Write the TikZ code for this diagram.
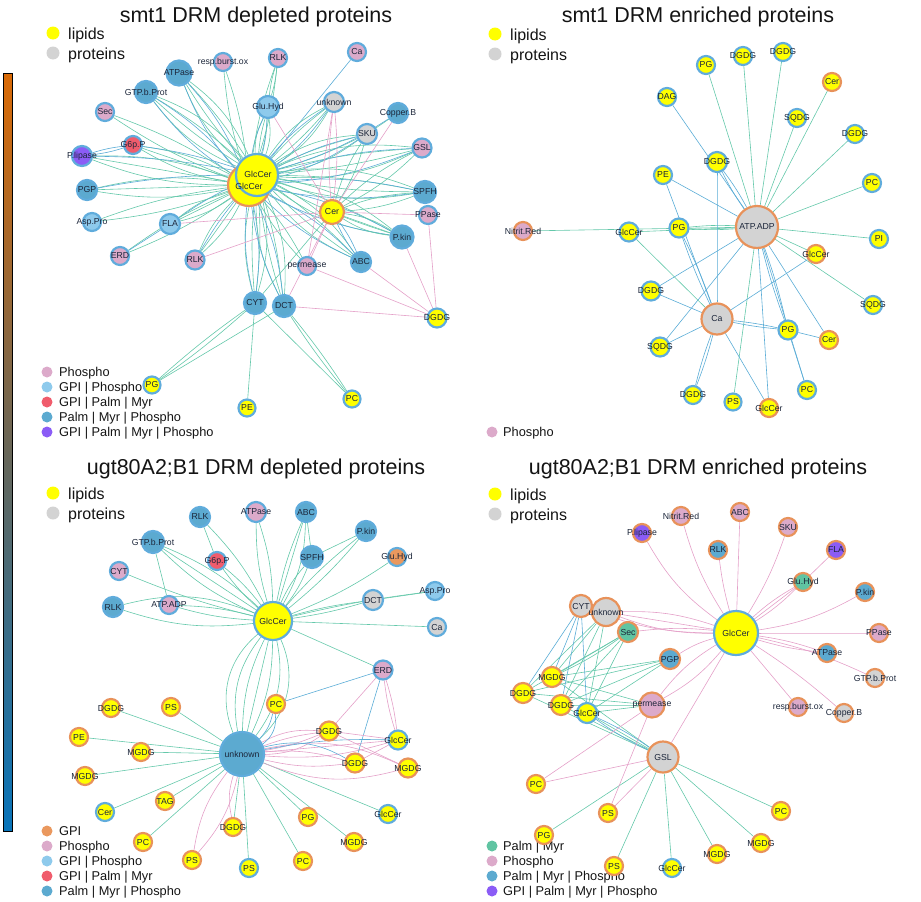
\documentclass[tikz,border=0pt]{standalone}
\usepackage{fontspec}
\setmainfont{Liberation Sans}
\usetikzlibrary{backgrounds}
\definecolor{cY}{RGB}{255,255,0}
\definecolor{cGr}{RGB}{211,211,211}
\definecolor{cPh}{RGB}{220,170,202}
\definecolor{cGP}{RGB}{142,202,236}
\definecolor{cGPM}{RGB}{240,92,108}
\definecolor{cPMP}{RGB}{92,170,208}
\definecolor{cAll}{RGB}{139,92,246}
\definecolor{cGPI}{RGB}{234,152,94}
\definecolor{cPM}{RGB}{96,196,162}
\definecolor{bB}{RGB}{96,172,220}
\definecolor{bO}{RGB}{232,146,90}
\definecolor{eG}{RGB}{100,200,170}
\definecolor{eB}{RGB}{90,172,214}
\definecolor{eP}{RGB}{228,160,200}
\definecolor{labc}{RGB}{28,38,58}
\definecolor{txt}{RGB}{20,20,20}
\definecolor{cbTop}{RGB}{218,106,6}
\definecolor{cbMid}{RGB}{104,102,88}
\definecolor{cbBot}{RGB}{8,116,186}
\newcommand\myfs[1]{\fontsize{#1}{#1}\selectfont}
\newcommand\mynd[6]{\node[nd,fill=#1,draw=#2,minimum size=#3pt,label={[lab]center:#6}] (#4) at (#5) {};}
\newcommand\fan[4]{\foreach \bb in {#4}{\draw[#1] (#2) to[bend left=\bb] (#3);}}
\newcommand\legA[4]{\node[circle,fill=#1,inner sep=0pt,minimum size=11pt] (#2) at (#3) {};}
\begin{document}
\begin{tikzpicture}[x=1pt,y=-1pt,
  nd/.style={circle,inner sep=0pt,line width=2.2pt},
  lab/.style={font=\myfs{8.7},text=labc,inner sep=0pt},
  eg/.style={draw=eG,line width=0.6pt},
  eb/.style={draw=eB,line width=0.6pt},
  ep/.style={draw=eP,line width=0.6pt},
  ttl/.style={font=\myfs{21.5},text=txt,anchor=base},
  lg/.style={font=\myfs{16},text=txt,anchor=base west,inner sep=0pt},
  lgs/.style={font=\myfs{12.8},text=txt,anchor=base west,inner sep=0pt},
  dot/.style={circle,inner sep=0pt}]
\useasboundingbox (0,0) rectangle (921,902);
% colour bar
\shade[top color=cbTop,bottom color=cbBot,middle color=cbMid] (3,73) rectangle (12,831);
\draw[black,line width=0.8pt] (3,73) rectangle (12,831);

% titles and legends
\node[ttl] (t1) at (256,22) {smt1 DRM depleted proteins};
\node[ttl] (t2) at (698,22) {smt1 DRM enriched proteins};
\node[ttl] (t3) at (256,474) {ugt80A2;B1 DRM depleted proteins};
\node[ttl] (t4) at (698,474) {ugt80A2;B1 DRM enriched proteins};
\foreach \px/\py/\nm in {53/33/p1,495/34/p2,53/493/p3,495/494/p4}{
  \node[dot,fill=cY,minimum size=13pt] (ly\nm) at (\px,\py) {};
  \node[dot,fill=cGr,minimum size=13pt] (lp\nm) at (\px,\py+20) {};
  \node[lg] (lyt\nm) at (\px+15,\py+6) {lipids};
  \node[lg] (lpt\nm) at (\px+15,\py+26) {proteins};
}
% bottom legends
\legA{cPh}{l1a}{47,372}{}\node[lgs] (l1at) at (59,376.5) {Phospho};
\legA{cGP}{l1b}{47,387}{}\node[lgs] (l1bt) at (59,391.5) {GPI | Phospho};
\legA{cGPM}{l1c}{47,402}{}\node[lgs] (l1ct) at (59,406.5) {GPI | Palm | Myr};
\legA{cPMP}{l1d}{47,417}{}\node[lgs] (l1dt) at (59,421.5) {Palm | Myr | Phospho};
\legA{cAll}{l1e}{47,432}{}\node[lgs] (l1et) at (59,436.5) {GPI | Palm | Myr | Phospho};
\legA{cPh}{l2a}{492,432}{}\node[lgs] (l2at) at (503,436.5) {Phospho};
\legA{cGPI}{l3a}{47,831}{}\node[lgs] (l3at) at (59,835.5) {GPI};
\legA{cPh}{l3b}{47,846}{}\node[lgs] (l3bt) at (59,850.5) {Phospho};
\legA{cGP}{l3c}{47,861}{}\node[lgs] (l3ct) at (59,865.5) {GPI | Phospho};
\legA{cGPM}{l3d}{47,876}{}\node[lgs] (l3dt) at (59,880.5) {GPI | Palm | Myr};
\legA{cPMP}{l3e}{47,891}{}\node[lgs] (l3et) at (59,895.5) {Palm | Myr | Phospho};
\legA{cPM}{l4a}{492,846}{}\node[lgs] (l4at) at (503,850.5) {Palm | Myr};
\legA{cPh}{l4b}{492,861}{}\node[lgs] (l4bt) at (503,865.5) {Phospho};
\legA{cPMP}{l4c}{492,876}{}\node[lgs] (l4ct) at (503,880.5) {Palm | Myr | Phospho};
\legA{cAll}{l4d}{492,891}{}\node[lgs] (l4dt) at (503,895.5) {GPI | Palm | Myr | Phospho};

% ===== panel 1 nodes =====
\node[nd,fill=cY,draw=bO,minimum size=42pt] (aglcO) at (249,185) {};
\node[nd,fill=cY,draw=bB,minimum size=42pt] (aglcB) at (257,175) {};
\node[lab] (aglcOl) at (249,186) {GlcCer};
\node[lab] (aglcBl) at (258,174) {GlcCer};
\mynd{cPMP}{bB}{25}{aATP}{179,73}{ATPase}
\mynd{cPh}{bB}{18}{aRBO}{223,62}{resp.burst.ox}
\mynd{cPMP}{bB}{22}{aGTP}{146,92}{GTP.b.Prot}
\mynd{cPh}{bB}{18}{aSec}{105,112}{Sec}
\mynd{cGPM}{bB}{18}{aG6P}{133,145}{G6p.P}
\mynd{cAll}{bB}{20}{aPL}{82,156}{P.lipase}
\mynd{cPMP}{bB}{20}{aPGP}{87,190}{PGP}
\mynd{cGP}{bB}{18}{aAsp}{92,222}{Asp.Pro}
\mynd{cGP}{bB}{20}{aFLA}{170,224}{FLA}
\mynd{cPh}{bB}{18}{aERD}{120,256}{ERD}
\mynd{cPh}{bB}{19}{aRLKb}{195,260}{RLK}
\mynd{cPMP}{bB}{22}{aCYT}{255,303}{CYT}
\mynd{cPMP}{bB}{22}{aDCT}{284,306}{DCT}
\mynd{cPh}{bB}{18}{aPerm}{307,266}{permease}
\mynd{cPMP}{bB}{20}{aABC}{361,262}{ABC}
\mynd{cPMP}{bB}{23}{aPkin}{402,237}{P.kin}
\mynd{cPh}{bB}{18}{aPPase}{428,215}{PPase}
\mynd{cPMP}{bB}{22}{aSPFH}{425,192}{SPFH}
\mynd{cPh}{bB}{19}{aGSL}{422,148}{GSL}
\mynd{cGr}{bB}{20}{aSKU}{367,134}{SKU}
\mynd{cPMP}{bB}{20}{aCop}{398,113}{Copper.B}
\mynd{cGr}{bB}{20}{aUnk}{334,102}{unknown}
\mynd{cGP}{bB}{22}{aGlu}{268,107}{Glu.Hyd}
\mynd{cPh}{bB}{18}{aRLKt}{278,58}{RLK}
\mynd{cPh}{bB}{18}{aCa}{357,52}{Ca}
\mynd{cY}{bO}{24}{aCer}{332,212}{Cer}
\mynd{cY}{bB}{19}{aDGDG}{437,318}{DGDG}
\mynd{cY}{bB}{17}{aPG}{152,385}{PG}
\mynd{cY}{bB}{17}{aPE}{247,408}{PE}
\mynd{cY}{bB}{17}{aPC}{352,399}{PC}

% ===== panel 2 nodes =====
\mynd{cGr}{bO}{42}{bATP}{757,227}{ATP.ADP}
\mynd{cGr}{bO}{31}{bCa}{717,319}{Ca}
\mynd{cY}{bB}{18}{bPG1}{706,65}{PG}
\mynd{cY}{bB}{18}{bDG1}{743,56}{DGDG}
\mynd{cY}{bB}{18}{bDG2}{783,52}{DGDG}
\mynd{cY}{bO}{18}{bCer1}{832,82}{Cer}
\mynd{cY}{bB}{18}{bDAG}{667,97}{DAG}
\mynd{cY}{bB}{18}{bSQ1}{797,118}{SQDG}
\mynd{cY}{bB}{18}{bDG3}{855,134}{DGDG}
\mynd{cY}{bB}{20}{bDG4}{717,162}{DGDG}
\mynd{cY}{bB}{18}{bPE}{663,175}{PE}
\mynd{cY}{bB}{18}{bPC1}{872,183}{PC}
\mynd{cPh}{bO}{18}{bNit}{523,231}{Nitrit.Red}
\mynd{cY}{bB}{19}{bGlc1}{629,232}{GlcCer}
\mynd{cY}{bB}{19}{bPG2}{679,228}{PG}
\mynd{cY}{bB}{18}{bPI}{879,239}{PI}
\mynd{cY}{bO}{18}{bGlc2}{816,254}{GlcCer}
\mynd{cY}{bB}{19}{bDG5}{651,291}{DGDG}
\mynd{cY}{bB}{18}{bSQ2}{873,305}{SQDG}
\mynd{cY}{bB}{19}{bPG3}{788,330}{PG}
\mynd{cY}{bO}{18}{bCer2}{829,340}{Cer}
\mynd{cY}{bB}{19}{bSQ3}{660,347}{SQDG}
\mynd{cY}{bB}{18}{bPC2}{807,390}{PC}
\mynd{cY}{bB}{18}{bDG6}{693,395}{DGDG}
\mynd{cY}{bB}{17}{bPS}{733,402}{PS}
\mynd{cY}{bO}{18}{bGlc3}{769,408}{GlcCer}

% ===== panel 3 nodes =====
\mynd{cY}{bB}{38}{cGlc}{273,621}{GlcCer}
\mynd{cPMP}{bB}{44}{cUnk}{242,754}{unknown}
\mynd{cPMP}{bB}{20}{cRLK1}{200,517}{RLK}
\mynd{cPh}{bB}{20}{cATP}{256,512}{ATPase}
\mynd{cPMP}{bB}{20}{cABC}{306,512}{ABC}
\mynd{cPMP}{bB}{20}{cPkin}{366,531}{P.kin}
\mynd{cPMP}{bB}{22}{cGTP}{153,542}{GTP.b.Prot}
\mynd{cGPM}{bB}{18}{cG6P}{217,561}{G6p.P}
\mynd{cPMP}{bB}{22}{cSPFH}{312,557}{SPFH}
\mynd{cGPI}{bB}{18}{cGlu}{397,557}{Glu.Hyd}
\mynd{cPh}{bB}{18}{cCYT}{119,571}{CYT}
\mynd{cPMP}{bB}{20}{cRLK2}{113,607}{RLK}
\mynd{cPh}{bB}{18}{cATPADP}{169,605}{ATP.ADP}
\mynd{cGr}{bB}{20}{cDCT}{373,600}{DCT}
\mynd{cGP}{bB}{18}{cAsp}{435,591}{Asp.Pro}
\mynd{cGr}{bB}{18}{cCa}{437,627}{Ca}
\mynd{cPh}{bB}{19}{cERD}{383,670}{ERD}
\mynd{cY}{bO}{18}{cDG1}{111,708}{DGDG}
\mynd{cY}{bO}{18}{cPS1}{171,707}{PS}
\mynd{cY}{bO}{18}{cPC1}{276,704}{PC}
\mynd{cY}{bO}{18}{cPE}{79,737}{PE}
\mynd{cY}{bO}{19}{cDG2}{329,731}{DGDG}
\mynd{cY}{bB}{19}{cGlc2}{398,740}{GlcCer}
\mynd{cY}{bO}{18}{cMG1}{141,752}{MGDG}
\mynd{cY}{bO}{19}{cDG3}{355,763}{DGDG}
\mynd{cY}{bO}{19}{cMG2}{408,768}{MGDG}
\mynd{cY}{bO}{18}{cMG3}{85,776}{MGDG}
\mynd{cY}{bB}{18}{cCer}{105,812}{Cer}
\mynd{cY}{bO}{18}{cTAG}{165,801}{TAG}
\mynd{cY}{bO}{18}{cDG4}{233,827}{DGDG}
\mynd{cY}{bB}{18}{cGlc3}{388,814}{GlcCer}
\mynd{cY}{bO}{18}{cPG}{308,817}{PG}
\mynd{cY}{bO}{18}{cPC2}{143,842}{PC}
\mynd{cY}{bO}{18}{cMG4}{354,842}{MGDG}
\mynd{cY}{bO}{18}{cPS2}{192,860}{PS}
\mynd{cY}{bO}{18}{cPC3}{303,861}{PC}
\mynd{cY}{bB}{18}{cPS3}{249,868}{PS}

% ===== panel 4 nodes =====
\mynd{cY}{bB}{44}{dGlc}{736,633}{GlcCer}
\mynd{cPh}{bO}{18}{dNit}{681,516}{Nitrit.Red}
\mynd{cPh}{bO}{18}{dABC}{740,512}{ABC}
\mynd{cPh}{bO}{18}{dSKU}{788,527}{SKU}
\mynd{cAll}{bO}{18}{dPL}{642,533}{P.lipase}
\mynd{cPMP}{bO}{18}{dRLK}{718,550}{RLK}
\mynd{cAll}{bO}{18}{dFLA}{836,550}{FLA}
\mynd{cPM}{bO}{18}{dGlu}{803,582}{Glu.Hyd}
\mynd{cPMP}{bO}{18}{dPkin}{865,592}{P.kin}
\mynd{cGr}{bO}{22}{dCYT}{581,606}{CYT}
\mynd{cGr}{bO}{28}{dUnk}{606,612}{unknown}
\mynd{cPM}{bO}{20}{dSec}{628,632}{Sec}
\mynd{cPh}{bO}{18}{dPPase}{879,633}{PPase}
\mynd{cPMP}{bO}{18}{dATPase}{827,653}{ATPase}
\mynd{cPMP}{bO}{20}{dPGP}{670,659}{PGP}
\mynd{cGr}{bO}{18}{dGTP}{875,678}{GTP.b.Prot}
\mynd{cY}{bO}{20}{dDG1}{523,693}{DGDG}
\mynd{cY}{bO}{20}{dMG1}{552,677}{MGDG}
\mynd{cY}{bO}{20}{dDG2}{561,705}{DGDG}
\mynd{cY}{bB}{20}{dGlc2}{587,713}{GlcCer}
\mynd{cPh}{bO}{25}{dPerm}{652,705}{permease}
\mynd{cPh}{bO}{18}{dRBO}{798,707}{resp.burst.ox}
\mynd{cGr}{bO}{18}{dCop}{844,713}{Copper.B}
\mynd{cGr}{bO}{31}{dGSL}{663,757}{GSL}
\mynd{cY}{bO}{18}{dPC1}{536,784}{PC}
\mynd{cY}{bO}{18}{dPS1}{608,813}{PS}
\mynd{cY}{bO}{18}{dPC2}{781,811}{PC}
\mynd{cY}{bO}{18}{dPG}{544,835}{PG}
\mynd{cY}{bO}{18}{dMG2}{761,843}{MGDG}
\mynd{cY}{bO}{18}{dMG3}{717,854}{MGDG}
\mynd{cY}{bO}{18}{dPS2}{614,866}{PS}
\mynd{cY}{bB}{18}{dGlc3}{672,868}{GlcCer}

\begin{scope}[on background layer]
% ----- panel 1 edges -----
\fan{eb}{aCa}{aglcB}{0}
\foreach \t in {aATP,aGTP,aGlu,aUnk,aSKU,aGSL,aSPFH,aPkin,aABC,aCYT,aDCT}{\fan{eg}{aglcB}{\t}{-14,-5,5,14}\fan{eb}{aglcO}{\t}{-9,9}}
\foreach \t in {aPL,aPGP,aFLA,aRLKb,aG6P}{\fan{eg}{aglcO}{\t}{-10,0,10}\fan{eb}{aglcB}{\t}{-5}}
\foreach \t in {aSec,aAsp,aRBO,aRLKt,aPerm,aERD}{\fan{eg}{aglcO}{\t}{-6,6}}
\fan{eg}{aCop}{aSKU}{0}
\fan{eb}{aCop}{aglcB}{8}
\fan{eg}{aRLKt}{aGlu}{-5,5}
\fan{eb}{aPL}{aG6P}{-5,5}
\fan{eb}{aERD}{aFLA}{0}
\fan{eg}{aCer}{aPkin}{-12,0,12}
\fan{eg}{aCer}{aSPFH}{-8,8}
\fan{eg}{aCer}{aGSL}{-8,8}
\fan{eg}{aCer}{aSKU}{-8,8}
\fan{eb}{aCer}{aABC}{-6,6}
\fan{eg}{aCer}{aCYT}{0}
\fan{ep}{aCer}{aUnk}{-6,6}
\fan{ep}{aCer}{aPerm}{0}
\fan{ep}{aCer}{aDCT}{0}
\fan{ep}{aCer}{aGlu}{0}
\fan{ep}{aCer}{aCop}{0}
\fan{ep}{aCer}{aFLA}{0}
\fan{ep}{aCer}{aRLKb}{0}
\fan{ep}{aCer}{aPPase}{0}
\fan{ep}{aUnk}{aPerm}{0}
\foreach \t in {aPPase,aPkin,aABC,aPerm,aDCT}{\fan{ep}{\t}{aDGDG}{0}}
\fan{eg}{aCYT}{aPG}{-3,3}
\fan{eg}{aDCT}{aPG}{0}
\fan{eg}{aCYT}{aPE}{0}
\fan{eg}{aDCT}{aPC}{-3,3}
\fan{eg}{aCYT}{aPC}{0}
% ----- panel 2 edges -----
\foreach \t in {bPG1,bDG1,bDG2,bCer1,bSQ1,bDG3,bPC1,bPI,bGlc2,bSQ2,bGlc1,bNit,bPS}{\fan{eg}{bATP}{\t}{0}}
\fan{eg}{bATP}{bPG2}{-4,4}
\foreach \t in {bDAG,bPE,bDG5,bSQ3,bCer2,bPC2,bGlc3}{\fan{eb}{bATP}{\t}{0}}
\fan{eb}{bATP}{bDG4}{-4,4}
\fan{eb}{bATP}{bPG3}{-3,3}
\foreach \t in {bDG5,bSQ3,bGlc2,bGlc3,bDG4,bPE}{\fan{eb}{bCa}{\t}{0}}
\fan{eg}{bCa}{bGlc1}{0}
\fan{eb}{bCa}{bPG2}{-3,3}
\fan{eb}{bCa}{bDG6}{-3,3}
\fan{eb}{bCa}{bPG3}{-3,3}
\fan{eb}{bPG3}{bPC2}{0}
\fan{eb}{bPG3}{bCer2}{0}
% ----- panel 3 edges -----
\fan{eg}{cGlc}{cRLK1}{-8}
\fan{eg}{cGlc}{cATP}{-8,8}
\fan{eg}{cGlc}{cABC}{-14,0,6}
\fan{eg}{cGlc}{cPkin}{-5,5}
\fan{eg}{cGlc}{cGTP}{-10,0,10}
\fan{eg}{cGlc}{cG6P}{-6,6}
\fan{eg}{cGlc}{cSPFH}{-8,8}
\fan{eg}{cGlc}{cGlu}{-6}
\fan{eg}{cGlc}{cCYT}{4}
\fan{eg}{cGlc}{cRLK2}{-18,12}
\fan{eg}{cGlc}{cATPADP}{-6,6}
\fan{eg}{cGlc}{cDCT}{-4,4}
\fan{eg}{cGlc}{cCa}{0}
\fan{eg}{cGlc}{cERD}{0}
\fan{eg}{cGlc}{cAsp}{3}
\fan{eg}{cGTP}{cATPADP}{0}
\fan{eg}{cRLK1}{cG6P}{0}
\fan{eg}{cPkin}{cSPFH}{0}
\fan{eg}{cAsp}{cDCT}{0}
\fan{eg}{cABC}{cSPFH}{0}
\fan{eg}{cGlc}{cUnk}{-36,-24,-12,0,12,24,36}
\foreach \t in {cDG1,cPS1,cPE,cMG1,cMG3,cCer,cTAG,cPC2,cPS3,cPC3,cPG,cMG4,cGlc3,cDG4}{\fan{eg}{cUnk}{\t}{0}}
\fan{ep}{cUnk}{cPS2}{-14,14}
\fan{ep}{cUnk}{cDG4}{-15}
\fan{ep}{cUnk}{cDG2}{-16,-6,6,16}
\fan{ep}{cUnk}{cDG3}{-10,10}
\fan{ep}{cUnk}{cGlc2}{-10,0}
\fan{ep}{cUnk}{cMG2}{-18,18}
\fan{eb}{cUnk}{cPC1}{-30,-15}
\fan{eb}{cUnk}{cDG3}{22}
\fan{eb}{cUnk}{cGlc2}{6}
\fan{eb}{cERD}{cPC1}{0}
\fan{eb}{cERD}{cDG3}{0}
\fan{ep}{cERD}{cDG2}{0}
\fan{ep}{cERD}{cGlc2}{-5,5}
\fan{ep}{cDG2}{cGlc2}{0}
\fan{ep}{cDG2}{cMG2}{0}
\fan{ep}{cDG3}{cGlc2}{0}
% ----- panel 4 edges -----
\fan{ep}{dGlc}{dNit}{8}
\fan{ep}{dGlc}{dABC}{0}
\fan{ep}{dGlc}{dSKU}{-6}
\fan{ep}{dGlc}{dPL}{12}
\fan{ep}{dGlc}{dRLK}{4}
\fan{ep}{dGlc}{dPkin}{-10}
\fan{ep}{dGlc}{dPPase}{0}
\fan{ep}{dGlc}{dGTP}{6}
\fan{ep}{dGlc}{dRBO}{0}
\fan{ep}{dGlc}{dCop}{4}
\fan{ep}{dGlc}{dCYT}{10}
\fan{ep}{dGlc}{dSec}{-6}
\fan{ep}{dGlc}{dPGP}{-8}
\fan{ep}{dGlc}{dGSL}{0}
\fan{ep}{dGlc}{dGlu}{-6,0,6}
\fan{ep}{dGlc}{dATPase}{-5,5}
\fan{ep}{dGlc}{dUnk}{-10,0,10}
\fan{ep}{dGlc}{dPerm}{-10,10}
\fan{ep}{dFLA}{dGlu}{0}
\foreach \s in {dUnk,dSec,dPGP,dPerm,dGSL}{\foreach \t in {dMG1,dDG1,dDG2,dGlc2}{\fan{eg}{\s}{\t}{0}}}
\foreach \t in {dMG1,dDG1,dDG2,dGlc2}{\fan{eb}{dCYT}{\t}{0}}
\fan{eb}{dGSL}{dGlc2}{-5,5}
\fan{eg}{dSec}{dMG1}{5}
\foreach \t in {dPG,dPS2,dGlc3,dMG3,dMG2,dPC2}{\fan{eg}{dGSL}{\t}{0}}
\fan{ep}{dPerm}{dPC1}{0}
\fan{ep}{dPerm}{dPS1}{0}
\fan{ep}{dGSL}{dPC1}{0}
\fan{ep}{dGSL}{dPS1}{0}
\end{scope}
\end{tikzpicture}
\end{document}
